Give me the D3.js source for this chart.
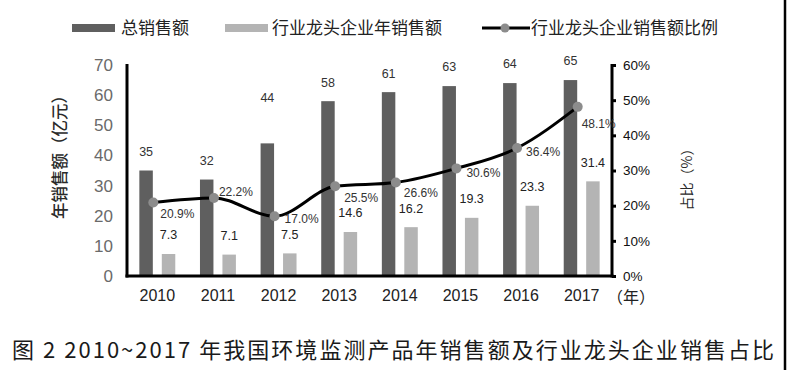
<!DOCTYPE html>
<html><head><meta charset="utf-8">
<script src="https://cdn.jsdelivr.net/npm/d3@7"></script>
<style>
html,body{margin:0;padding:0;background:#fff;}
svg{display:block;font-family:"Liberation Sans","Noto Sans CJK SC",sans-serif;}
</style></head>
<body>
<svg id="c" width="788" height="370"></svg>
<script>
const years = ["2010","2011","2012","2013","2014","2015","2016","2017"];
const totalSales = [35,32,44,58,61,63,64,65];
const leaderSales = [7.3,7.1,7.5,14.6,16.2,19.3,23.3,31.4];
const leaderRatio = [20.9,22.2,17.0,25.5,26.6,30.6,36.4,48.1];
const leftTicks = [0,10,20,30,40,50,60,70];
const rightTicks = [0,10,20,30,40,50,60];
const seriesNames = ["总销售额","行业龙头企业年销售额","行业龙头企业销售额比例"];
const leftTitle = "年销售额（亿元）";
const rightTitle = "占比（%）";
const xUnit = "（年）";
const caption = "图 2 2010~2017 年我国环境监测产品年销售额及行业龙头企业销售占比";

// label nudges (style, not data)
const pctDx = [24,22,27,26,25,27,26,21];
const pctDy = [11,-6,3,11,10,4,4,17];
const totalLabelLift = [19,19,46,19,19,19,19,19];

const svg = d3.select("#c");
const L = 127, R = 612, T = 65, B = 276;
const cDark = "#5f5f5f", cLight = "#b4b4b4";
const cjk = '"Noto Sans CJK SC",sans-serif';

const x = d3.scaleBand().domain(years).range([L, R]).padding(0);
const xs = d3.scaleBand().domain(["t","l"]).range([0, x.bandwidth()]).paddingInner(0.4).paddingOuter(0.55);
const yL = d3.scaleLinear().domain([0,70]).range([B, T]);
const yR = d3.scaleLinear().domain([0,60]).range([B, T]);

// bars
svg.append("g").selectAll("rect").data(years).join("rect")
  .attr("x", d => x(d) + xs("t")).attr("width", xs.bandwidth())
  .attr("y", (d,i) => yL(totalSales[i])).attr("height", (d,i) => B - yL(totalSales[i]))
  .attr("fill", cDark);
svg.append("g").selectAll("rect").data(years).join("rect")
  .attr("x", d => x(d) + xs("l")).attr("width", xs.bandwidth())
  .attr("y", (d,i) => yL(leaderSales[i])).attr("height", (d,i) => B - yL(leaderSales[i]))
  .attr("fill", cLight);

// bar labels
svg.append("g").selectAll("text").data(years).join("text")
  .attr("x", d => x(d) + xs("t") + xs.bandwidth()/2)
  .attr("y", (d,i) => yL(totalSales[i]) - totalLabelLift[i])
  .attr("dy","0.35em").attr("text-anchor","middle")
  .attr("font-size", 12.5).attr("fill","#333")
  .text((d,i) => totalSales[i]);
svg.append("g").selectAll("text").data(years).join("text")
  .attr("x", d => x(d) + xs("l") + xs.bandwidth()/2)
  .attr("y", (d,i) => yL(leaderSales[i]) - 19)
  .attr("dy","0.35em").attr("text-anchor","middle")
  .attr("font-size", 12.5).attr("fill","#222")
  .text((d,i) => leaderSales[i].toFixed(1));

// axes
const axisG = svg.append("g");
const leftAxis = d3.axisLeft(yL).tickValues(leftTicks).tickSize(0).tickPadding(14);
const gl = axisG.append("g").attr("transform", `translate(${L},0)`).call(leftAxis);
gl.select(".domain").remove();
gl.selectAll("text").attr("font-size", 17).attr("fill","#6a6a6a").attr("font-family",'"Liberation Sans",sans-serif');

const rightAxis = d3.axisRight(yR).tickValues(rightTicks).tickSize(4).tickPadding(7).tickFormat(d => d + "%");
const gr = axisG.append("g").attr("transform", `translate(${R},0)`).call(rightAxis);
gr.select(".domain").remove();
gr.selectAll("line").attr("stroke","#000").attr("stroke-width",3);
gr.selectAll("text").attr("font-size", 13.5).attr("fill","#111").attr("font-family",'"Liberation Sans",sans-serif');

const bottomAxis = d3.axisBottom(x).tickSize(0).tickPadding(14);
const gb = axisG.append("g").attr("transform", `translate(0,${B})`).call(bottomAxis);
gb.select(".domain").remove();
gb.selectAll("text").attr("font-size", 16).attr("fill","#222").attr("font-family",'"Liberation Sans",sans-serif');

svg.append("line").attr("x1",L).attr("x2",L).attr("y1",T-1).attr("y2",B+1.5).attr("stroke","#000").attr("stroke-width",3);
svg.append("line").attr("x1",R).attr("x2",R).attr("y1",T-1).attr("y2",B+1.5).attr("stroke","#000").attr("stroke-width",3);
svg.append("line").attr("x1",L-1.5).attr("x2",R+1.5).attr("y1",B).attr("y2",B).attr("stroke","#000").attr("stroke-width",3);

svg.append("text").attr("x", R - 5).attr("y", 297).attr("dy","0.35em")
  .attr("font-size",16).attr("fill","#222").attr("font-family",cjk).text(xUnit);

// ratio line
const px = d => x(d) + x.bandwidth()/2 - 4;
const line = d3.line().x((d,i) => px(years[i])).y(d => yR(d)).curve(d3.curveMonotoneX);
svg.append("path").datum(leaderRatio).attr("d", line)
  .attr("fill","none").attr("stroke","#000").attr("stroke-width",3);
svg.append("g").selectAll("circle").data(leaderRatio).join("circle")
  .attr("cx", (d,i) => px(years[i])).attr("cy", d => yR(d)).attr("r", 5)
  .attr("fill","#8c8c8c");
svg.append("g").selectAll("text").data(leaderRatio).join("text")
  .attr("x", (d,i) => px(years[i]) + pctDx[i])
  .attr("y", (d,i) => yR(d) + pctDy[i])
  .attr("dy","0.35em").attr("text-anchor","middle")
  .attr("font-size", 12).attr("fill","#333")
  .text(d => d.toFixed(1) + "%");

// axis titles
svg.append("text").attr("transform","translate(60,153) rotate(-90)")
  .attr("text-anchor","middle").attr("dy","0.35em")
  .attr("font-size",16.5).attr("fill","#2a2a2a").attr("font-family",cjk).attr("font-weight",500)
  .text(leftTitle);
svg.append("text").attr("transform","translate(687,176) rotate(-90)")
  .attr("text-anchor","middle").attr("dy","0.35em")
  .attr("font-size",14).attr("fill","#2a2a2a").attr("font-family",cjk)
  .text(rightTitle);

// legend
const lg = svg.append("g").attr("font-family",cjk).attr("font-size",17).attr("fill","#222");
lg.append("rect").attr("x",72).attr("y",24).attr("width",43).attr("height",8).attr("fill",cDark);
lg.append("text").attr("x",121).attr("y",28).attr("dy","0.35em").text(seriesNames[0]);
lg.append("rect").attr("x",225).attr("y",24).attr("width",43).attr("height",8).attr("fill",cLight);
lg.append("text").attr("x",272).attr("y",28).attr("dy","0.35em").text(seriesNames[1]);
lg.append("line").attr("x1",482).attr("x2",530).attr("y1",28).attr("y2",28).attr("stroke","#000").attr("stroke-width",3);
lg.append("circle").attr("cx",505).attr("cy",28).attr("r",4.5).attr("fill","#8c8c8c");
lg.append("text").attr("x",531).attr("y",28).attr("dy","0.35em").text(seriesNames[2]);

// caption
svg.append("text").attr("x",12).attr("y",350).attr("dy","0.35em")
  .attr("font-family",cjk).attr("font-weight",400).attr("font-size",22).attr("fill","#1a1a1a")
  .attr("textLength",762).attr("lengthAdjust","spacing")
  .text(caption);

// frame edge on right
svg.append("line").attr("x1",785).attr("x2",785).attr("y1",0).attr("y2",370).attr("stroke","#000").attr("stroke-width",2.5);
</script>
</body></html>
